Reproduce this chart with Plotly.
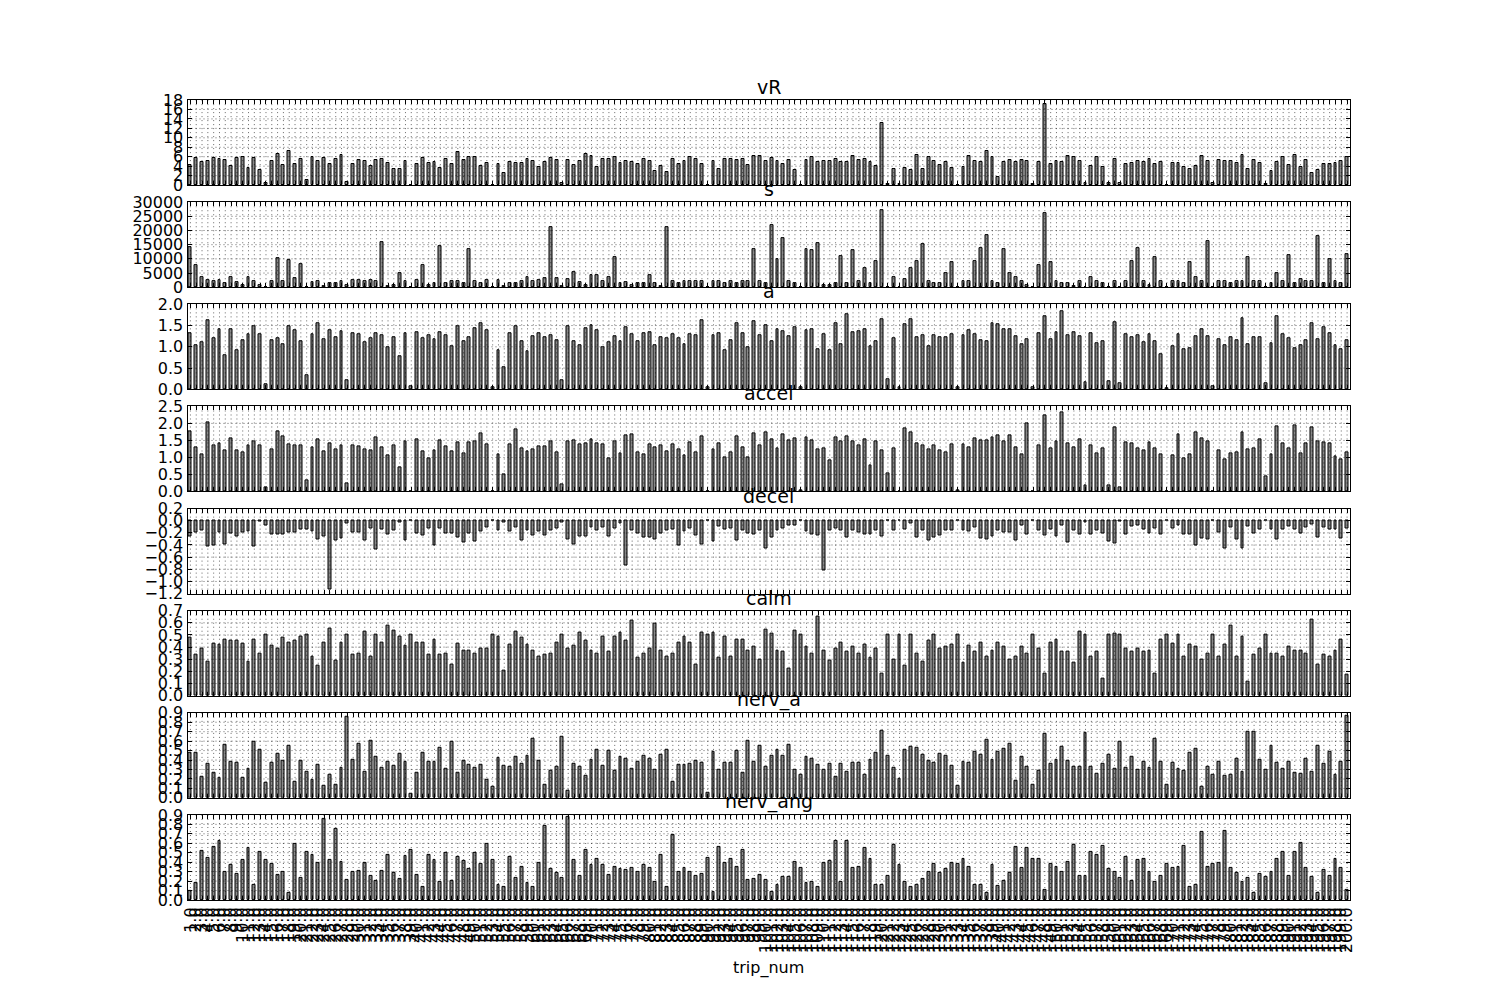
import plotly.graph_objects as go

# ---------------- data ----------------
trip_num = list(range(1, 201))
tick_labels = [f"{t:.1f}" for t in trip_num]

vR = [4.2,5.8,4.9,5.1,5.8,5.6,5.3,4.0,5.8,5.9,
      3.7,5.8,3.2,0.5,5.1,6.6,4.3,7.2,4.5,5.6,
      1.1,6.0,5.1,5.8,4.5,5.6,6.4,0.6,4.4,5.3,
      5.1,4.0,5.3,5.5,4.7,3.5,3.5,5.1,0.0,4.5,
      5.8,4.7,4.9,3.7,5.5,4.4,7.0,5.3,5.9,5.9,
      4.1,4.7,0.0,4.4,2.5,4.9,4.7,4.7,5.5,5.1,
      3.9,4.9,5.8,5.3,0.4,5.3,4.3,
      5.1,6.5,6.1,3.8,5.5,5.5,5.9,4.7,5.2,4.9,
      4.5,5.5,5.1,3.0,4.0,2.8,5.5,4.4,5.1,5.9,
      5.5,4.4,0.0,5.1,3.5,5.5,5.5,5.3,5.5,4.2,
      6.1,6.1,5.1,5.7,5.1,4.4,5.3,3.2,0.1,5.3,
      5.9,4.9,5.1,5.1,5.5,4.9,4.9,6.1,5.3,5.5,
      4.9,4.0,13.1,0.2,3.4,0.2,3.6,3.2,6.4,3.4,
      5.9,5.1,4.2,4.9,3.6,0.1,3.9,
      6.1,5.1,4.9,7.2,5.9,1.7,4.9,5.3,4.9,5.3,
      5.1,0.2,4.9,17.1,4.4,5.1,4.9,6.1,5.9,5.1,
      0.4,4.0,5.9,3.8,0.4,5.5,0.4,4.4,4.7,5.1,
      4.9,5.5,4.4,4.9,0.0,4.7,4.7,3.8,3.4,4.0,
      6.1,5.1,0.4,5.3,5.1,5.1,4.7,6.4,3.5,5.3,
      4.7,0.2,3.0,4.9,5.9,4.2,6.4,3.8,5.3,2.5,
      3.2,4.4,4.4,4.7,5.1,5.9]

s_k = [14.3,7.9,3.5,2.4,2.1,2.4,1.3,3.7,1.7,0.9,
       3.4,2.1,0.9,0.1,2.1,10.3,2.1,9.4,3.1,8.3,
       0.1,1.7,2.3,0.35,1.3,1.3,2.0,0.6,2.4,2.4,
       2.2,2.4,2.1,15.9,0.35,0.8,5.0,2.1,0.0,2.4,
       7.9,0.8,1.6,14.5,1.6,2.1,2.1,1.6,13.5,2.1,
       1.3,2.4,0.0,2.4,0.35,1.6,1.6,2.0,3.4,2.1,
       2.4,3.1,21.2,3.1,0.35,2.7,5.3,
       1.9,0.8,4.1,4.4,2.0,3.4,10.7,1.6,1.9,0.8,
       1.6,1.3,4.1,1.3,0.35,21.2,2.3,1.3,2.0,2.3,
       2.0,2.3,0.0,2.0,2.0,1.3,2.0,1.6,2.3,2.3,
       13.5,2.0,1.5,21.9,9.8,17.3,2.0,1.3,0.1,13.5,
       13.1,15.7,0.9,0.9,1.3,11.0,1.5,13.1,2.3,6.9,
       1.3,9.3,27.1,0.1,3.4,0.1,2.7,6.9,9.1,15.2,
       2.3,1.6,1.6,4.8,9.0,0.1,2.3,
       2.3,9.3,13.8,18.4,2.0,1.3,13.5,5.1,3.7,2.3,
       0.9,0.1,7.9,26.0,9.0,2.0,1.6,1.6,0.5,2.0,
       0.1,3.4,2.0,1.3,0.1,2.0,0.1,2.0,9.3,13.8,
       2.3,0.9,10.7,2.0,0.0,2.0,2.0,1.6,9.0,3.4,
       2.0,16.3,0.1,2.0,2.0,1.6,2.3,2.0,10.7,2.0,
       2.3,0.1,1.3,5.1,2.0,11.4,1.3,2.7,2.0,2.0,
       18.0,1.6,9.8,2.0,1.6,11.7]
s = [v * 1000 for v in s_k]

a = [1.32,1.04,1.11,1.62,1.20,1.41,0.80,1.41,0.92,1.15,
     1.29,1.48,1.29,0.12,1.15,1.20,1.06,1.48,1.39,1.13,
     0.33,1.29,1.55,1.18,1.39,1.22,1.36,0.21,1.32,1.29,
     1.11,1.20,1.32,1.27,0.99,1.22,0.78,1.32,0.07,1.34,
     1.20,1.27,1.18,1.34,1.27,1.01,1.48,1.13,1.22,1.44,
     1.55,1.39,0.05,0.92,0.52,1.32,1.48,1.13,0.89,1.25,
     1.32,1.22,1.27,1.15,0.21,1.48,1.13,
     1.04,1.44,1.51,1.39,0.99,1.11,1.25,1.13,1.46,1.29,
     1.13,1.32,1.34,1.04,1.22,1.20,1.29,1.20,1.06,1.29,
     1.27,1.62,0.06,1.27,1.32,0.92,1.15,1.55,1.32,0.99,
     1.60,1.27,1.51,1.13,1.41,1.36,1.25,1.46,0.04,1.39,
     1.41,0.94,1.29,0.92,1.55,1.06,1.76,1.34,1.36,1.41,
     1.01,1.13,1.65,0.24,1.20,0.04,1.53,1.65,1.22,1.27,
     1.01,1.27,1.22,1.22,1.29,0.04,1.27,
     1.39,1.29,1.15,1.13,1.55,1.53,1.41,1.41,1.25,1.06,
     1.18,0.05,1.32,1.72,1.18,1.34,1.84,1.27,1.34,1.25,
     0.16,1.32,1.08,1.13,0.19,1.58,0.14,1.29,1.22,1.27,
     1.11,1.29,1.13,0.82,0.02,1.01,1.29,0.94,0.96,1.25,
     1.41,1.25,0.07,1.18,1.04,1.22,1.15,1.67,1.06,1.22,
     1.22,0.14,1.08,1.72,1.29,1.20,0.96,1.04,1.15,1.55,
     1.18,1.46,1.32,1.04,0.94,1.15]

accel = [1.78,1.29,1.09,2.02,1.35,1.40,1.20,1.55,1.20,1.15,
         1.35,1.46,1.35,0.12,1.23,1.76,1.62,1.38,1.35,1.35,
         0.32,1.29,1.52,1.18,1.40,1.24,1.35,0.24,1.35,1.32,
         1.25,1.21,1.58,1.29,1.06,1.35,0.70,1.46,0.0,1.52,
         1.18,0.97,1.21,1.49,1.32,1.18,1.44,1.12,1.44,1.47,
         1.71,1.38,0.0,1.09,0.50,1.38,1.82,1.26,1.18,1.24,
         1.32,1.32,1.47,1.15,0.21,1.47,1.49,
         1.37,1.40,1.52,1.40,1.37,0.96,1.46,1.11,1.64,1.67,
         1.14,1.08,1.37,1.31,1.34,1.17,1.37,1.25,1.05,1.43,
         1.14,1.61,0.0,1.23,1.40,0.99,1.14,1.61,1.31,0.99,
         1.70,1.34,1.73,1.52,1.28,1.67,1.49,1.55,0.04,1.58,
         1.49,1.23,1.28,0.90,1.58,1.46,1.61,1.46,1.34,1.52,
         0.78,1.46,1.20,0.52,1.28,0.0,1.84,1.75,1.40,1.34,
         1.25,1.34,1.20,1.14,1.37,0.02,1.37,
         1.31,1.55,1.49,1.49,1.58,1.64,1.46,1.64,1.31,1.08,
         1.99,0.0,1.34,2.25,1.28,1.46,2.31,1.40,1.31,1.52,
         0.17,1.34,1.11,1.28,0.17,1.87,0.11,1.43,1.40,1.28,
         1.20,1.43,1.28,1.08,0.0,1.05,1.67,0.96,1.08,1.75,
         1.55,1.46,0.0,1.20,0.93,1.11,1.14,1.75,1.25,1.28,
         1.52,0.43,1.08,1.90,1.40,1.28,1.93,1.11,1.40,1.87,
         1.46,1.43,1.40,1.02,0.93,1.14]

decel = [-0.26,-0.20,-0.16,-0.43,-0.41,-0.20,-0.40,-0.21,-0.26,-0.20,
         -0.18,-0.43,-0.02,-0.08,-0.23,-0.23,-0.23,-0.20,-0.20,-0.15,
         -0.15,-0.18,-0.31,-0.26,-1.14,-0.33,-0.30,-0.05,-0.20,-0.20,
         -0.33,-0.13,-0.48,-0.15,-0.23,-0.16,-0.03,-0.33,0.0,-0.21,
         -0.25,-0.13,-0.41,-0.13,-0.21,-0.21,-0.28,-0.36,-0.21,-0.35,
         -0.18,-0.12,0.0,-0.16,-0.03,-0.18,-0.12,-0.33,-0.16,-0.25,
         -0.18,-0.25,-0.16,-0.13,-0.03,-0.31,-0.40,
         -0.26,-0.26,-0.12,-0.16,-0.12,-0.26,-0.13,-0.05,-0.73,-0.16,
         -0.21,-0.28,-0.28,-0.31,-0.21,-0.16,-0.15,-0.41,-0.18,-0.13,
         -0.25,-0.40,0.0,-0.35,-0.10,-0.15,-0.13,-0.33,-0.16,-0.21,
         -0.23,-0.16,-0.46,-0.28,-0.16,-0.13,-0.08,-0.08,0.0,-0.18,
         -0.23,-0.25,-0.82,-0.16,-0.13,-0.16,-0.28,-0.16,-0.20,-0.23,
         -0.23,-0.16,-0.26,0.0,-0.16,0.0,-0.15,-0.05,-0.28,-0.16,
         -0.33,-0.28,-0.25,-0.16,-0.16,0.0,-0.16,
         -0.18,-0.12,-0.30,-0.31,-0.26,-0.16,-0.20,-0.20,-0.33,-0.08,
         -0.23,0.0,-0.16,-0.25,-0.15,-0.26,-0.08,-0.36,-0.16,-0.23,
         -0.03,-0.23,-0.16,-0.21,-0.35,-0.38,-0.02,-0.23,-0.10,-0.08,
         -0.15,-0.21,-0.13,-0.23,0.0,-0.13,-0.08,-0.23,-0.23,-0.41,
         -0.30,-0.31,0.0,-0.20,-0.45,-0.12,-0.31,-0.45,-0.10,-0.21,
         -0.15,0.0,-0.15,-0.31,-0.15,-0.10,-0.15,-0.21,-0.12,-0.07,
         -0.28,-0.12,-0.15,-0.15,-0.30,-0.13]

calm = [0.475,0.335,0.385,0.28,0.425,0.42,0.46,0.45,0.45,0.425,
        0.28,0.46,0.35,0.50,0.41,0.385,0.475,0.44,0.45,0.485,
        0.50,0.32,0.245,0.44,0.55,0.285,0.435,0.50,0.335,0.345,
        0.525,0.325,0.50,0.435,0.58,0.535,0.49,0.41,0.50,0.435,
        0.44,0.335,0.46,0.335,0.345,0.26,0.425,0.375,0.375,0.35,
        0.39,0.39,0.50,0.485,0.205,0.42,0.525,0.475,0.42,0.37,
        0.325,0.335,0.35,0.435,0.50,0.39,0.41,
        0.515,0.45,0.37,0.35,0.49,0.36,0.485,0.515,0.45,0.615,
        0.31,0.345,0.39,0.59,0.375,0.32,0.345,0.435,0.485,0.435,
        0.26,0.515,0.50,0.515,0.31,0.49,0.325,0.46,0.465,0.375,
        0.40,0.30,0.54,0.51,0.37,0.36,0.22,0.535,0.50,0.40,
        0.35,0.65,0.37,0.285,0.39,0.44,0.36,0.40,0.35,0.42,
        0.31,0.39,0.185,0.50,0.30,0.50,0.245,0.50,0.35,0.28,
        0.45,0.50,0.385,0.40,0.42,0.50,0.27,
        0.41,0.36,0.44,0.325,0.37,0.435,0.40,0.295,0.32,0.40,
        0.345,0.50,0.385,0.18,0.435,0.46,0.36,0.36,0.27,0.525,
        0.50,0.32,0.36,0.14,0.50,0.51,0.50,0.39,0.36,0.39,
        0.36,0.375,0.18,0.46,0.50,0.425,0.50,0.32,0.42,0.40,
        0.30,0.35,0.50,0.325,0.42,0.575,0.325,0.485,0.12,0.335,
        0.385,0.50,0.35,0.345,0.32,0.40,0.37,0.375,0.35,0.625,
        0.26,0.335,0.325,0.37,0.465,0.17]

nerv_a = [0.48,0.48,0.22,0.36,0.265,0.21,0.56,0.38,0.37,0.21,
          0.31,0.59,0.51,0.16,0.37,0.47,0.39,0.55,0.17,0.39,
          0.28,0.195,0.35,0.13,0.24,0.14,0.32,0.86,0.40,0.57,
          0.28,0.60,0.43,0.32,0.38,0.34,0.47,0.38,0.04,0.265,
          0.48,0.38,0.38,0.53,0.31,0.59,0.265,0.39,0.35,0.32,
          0.35,0.19,0.115,0.42,0.34,0.33,0.43,0.36,0.445,0.625,
          0.39,0.14,0.29,0.33,0.645,0.075,0.36,
          0.325,0.235,0.40,0.51,0.34,0.50,0.285,0.435,0.41,0.31,
          0.38,0.445,0.41,0.30,0.455,0.51,0.17,0.35,0.35,0.36,
          0.39,0.37,0.05,0.49,0.30,0.37,0.37,0.50,0.265,0.60,
          0.38,0.55,0.33,0.445,0.51,0.445,0.56,0.30,0.245,0.435,
          0.41,0.35,0.30,0.36,0.22,0.36,0.28,0.37,0.37,0.245,
          0.40,0.475,0.71,0.445,0.32,0.20,0.51,0.54,0.53,0.455,
          0.39,0.37,0.465,0.445,0.34,0.13,0.38,
          0.37,0.49,0.455,0.615,0.40,0.49,0.52,0.57,0.18,0.435,
          0.33,0.14,0.29,0.68,0.36,0.40,0.54,0.39,0.33,0.33,
          0.69,0.33,0.255,0.36,0.455,0.31,0.59,0.32,0.435,0.30,
          0.38,0.32,0.625,0.38,0.14,0.37,0.31,0.285,0.475,0.52,
          0.115,0.33,0.245,0.38,0.235,0.245,0.41,0.28,0.70,0.70,
          0.40,0.30,0.55,0.37,0.31,0.38,0.265,0.255,0.41,0.28,
          0.55,0.36,0.49,0.245,0.38,0.87]

nerv_ang = [0.10,0.18,0.52,0.45,0.56,0.62,0.30,0.37,0.28,0.42,
            0.55,0.155,0.505,0.42,0.38,0.27,0.30,0.08,0.59,0.23,
            0.505,0.48,0.39,0.855,0.42,0.75,0.40,0.21,0.30,0.31,
            0.39,0.25,0.20,0.31,0.48,0.29,0.22,0.47,0.53,0.27,
            0.135,0.48,0.42,0.19,0.495,0.20,0.46,0.41,0.325,0.495,
            0.38,0.59,0.42,0.165,0.135,0.46,0.23,0.345,0.18,0.135,
            0.39,0.78,0.325,0.29,0.23,0.875,0.42,
            0.26,0.525,0.37,0.43,0.37,0.27,0.355,0.325,0.315,0.335,
            0.30,0.37,0.335,0.19,0.48,0.135,0.685,0.30,0.335,0.30,
            0.25,0.28,0.45,0.09,0.56,0.39,0.44,0.355,0.525,0.21,
            0.22,0.27,0.21,0.09,0.165,0.24,0.24,0.40,0.335,0.18,
            0.19,0.135,0.39,0.41,0.62,0.19,0.63,0.335,0.355,0.55,
            0.43,0.165,0.165,0.25,0.58,0.37,0.19,0.135,0.165,0.22,
            0.30,0.38,0.29,0.325,0.39,0.38,0.43,
            0.355,0.155,0.165,0.07,0.37,0.145,0.20,0.29,0.56,0.335,
            0.55,0.43,0.43,0.11,0.38,0.345,0.30,0.40,0.58,0.26,
            0.26,0.505,0.48,0.57,0.325,0.30,0.23,0.46,0.205,0.42,
            0.44,0.30,0.19,0.25,0.38,0.335,0.345,0.57,0.135,0.165,
            0.72,0.345,0.38,0.39,0.73,0.335,0.29,0.19,0.23,0.08,
            0.28,0.24,0.30,0.43,0.505,0.25,0.505,0.60,0.335,0.24,
            0.07,0.315,0.26,0.43,0.335,0.11]

panel_names = ["vR", "s", "a", "accel", "decel", "calm", "nerv_a", "nerv_ang"]
panel_values = [vR, s, a, accel, decel, calm, nerv_a, nerv_ang]

# ---------------- styling ----------------
y_ranges = [[0, 18], [0, 30000], [0, 2.0], [0, 2.5], [-1.2, 0.2], [0, 0.7], [0, 0.9], [0, 0.9]]
y_dticks = [2, 5000, 0.5, 0.5, 0.2, 0.1, 0.1, 0.1]
y_formats = ["d", "d", ".1f", ".1f", ".1f", ".1f", ".1f", ".1f"]

FONT = "DejaVu Sans"
W, H = 1500, 1000
left, right = 0.125, 0.9
top_px, bottom_px = 100.0, 900.0
n = len(panel_names)
ph = (bottom_px - top_px) / (n + 0.2 * (n - 1))
gap = 0.2 * ph

BAR_COLOR = "#8a8a8a"
GRID_DASH = "1px,3px"

fig = go.Figure()
layout = dict(
    width=W, height=H,
    margin=dict(l=0, r=0, t=0, b=0, autoexpand=False),
    paper_bgcolor="white", plot_bgcolor="white",
    showlegend=False, bargap=0,
    font=dict(family=FONT, size=16, color="black"),
    annotations=[],
)

xmin, xmax = trip_num[0] - 0.5, trip_num[-1] + 0.5

for k, (name, vals) in enumerate(zip(panel_names, panel_values)):
    idx = "" if k == 0 else str(k + 1)
    xa, ya = "x" + idx, "y" + idx
    t_px = top_px + k * (ph + gap)
    b_px = t_px + ph
    y0, y1 = 1 - b_px / H, 1 - t_px / H

    fig.add_trace(go.Bar(
        x=trip_num, y=vals, xaxis=xa, yaxis=ya, width=0.5,
        marker=dict(color=BAR_COLOR, line=dict(color="black", width=1)),
        hoverinfo="skip",
    ))

    # dotted grid drawn above the bars (as matplotlib does)
    lo, hi = y_ranges[k]
    step = y_dticks[k]
    yt = []
    v = lo
    while v <= hi + 1e-9:
        yt.append(v)
        v += step
    gx, gy = [], []
    for t in trip_num:
        gx += [t, t, None]
        gy += [lo, hi, None]
    for t in yt[1:-1]:
        gx += [xmin, xmax, None]
        gy += [t, t, None]
    fig.add_trace(go.Scatter(
        x=gx, y=gy, xaxis=xa, yaxis=ya, mode="lines",
        line=dict(color="black", width=0.6, dash=GRID_DASH),
        hoverinfo="skip", connectgaps=False,
    ))

    layout["xaxis" + idx] = dict(
        domain=[left, right], anchor=ya, range=[xmin, xmax],
        tickmode="array", tickvals=trip_num, ticktext=tick_labels,
        showticklabels=(k == n - 1), tickangle=-90,
        tickfont=dict(family=FONT, size=16, color="black"),
        ticks="inside", ticklen=4, tickwidth=1, tickcolor="black",
        showline=True, linecolor="black", linewidth=1, mirror="ticks",
        showgrid=False, zeroline=False, fixedrange=True, automargin=False,
    )
    layout["yaxis" + idx] = dict(
        domain=[y0, y1], anchor=xa, range=y_ranges[k],
        tickmode="linear", tick0=lo, dtick=step, tickformat=y_formats[k],
        tickfont=dict(family=FONT, size=16, color="black"),
        ticks="inside", ticklen=4, tickwidth=1, tickcolor="black",
        showline=True, linecolor="black", linewidth=1, mirror="ticks",
        showgrid=False, zeroline=False, fixedrange=True, automargin=False,
    )
    layout["annotations"].append(dict(
        text=name, xref="paper", yref="paper",
        x=(left + right) / 2, y=y1, xanchor="center", yanchor="bottom",
        yshift=0, showarrow=False,
        font=dict(family=FONT, size=19, color="black"),
    ))

layout["annotations"].append(dict(
    text="trip_num", xref="paper", yref="paper",
    x=(left + right) / 2, y=1 - 968 / H, xanchor="center", yanchor="middle",
    showarrow=False, font=dict(family=FONT, size=16, color="black"),
))

fig.update_layout(**layout)
fig.write_html("out.html")
